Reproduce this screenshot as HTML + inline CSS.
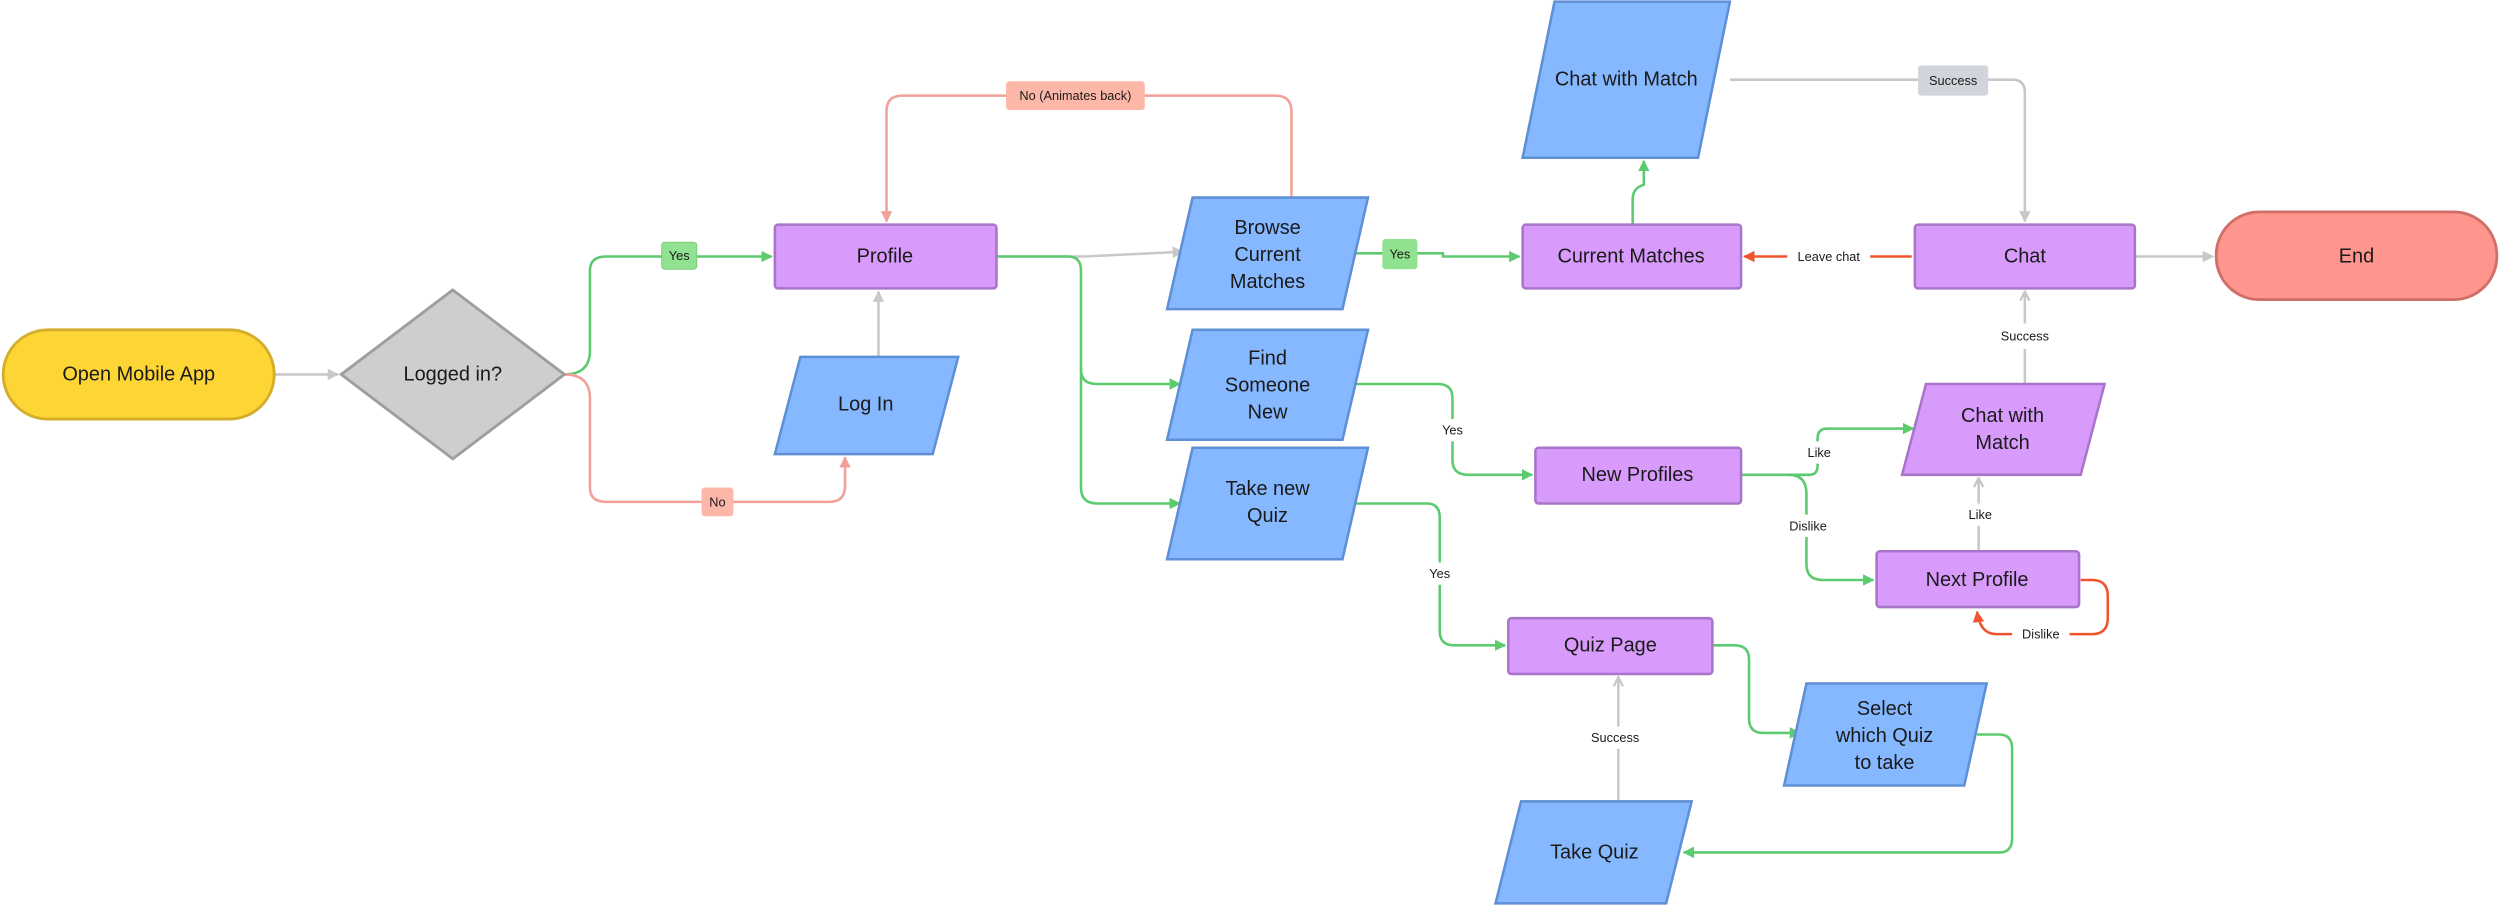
<!DOCTYPE html>
<html><head><meta charset="utf-8"><style>
html,body{margin:0;padding:0;background:#fff;}
svg{display:block;}
text{font-family:"Liberation Sans",sans-serif;fill:#1a1a1a;}
.n{font-size:12.5px;text-anchor:middle;dominant-baseline:central;}
.l{font-size:8px;text-anchor:middle;dominant-baseline:central;}
.g{stroke:#5CCB6F;stroke-width:1.6;fill:none;}
.gr{stroke:#C8C8C8;stroke-width:1.6;fill:none;}
.p{stroke:#F1A198;stroke-width:1.6;fill:none;}
.r{stroke:#F1532F;stroke-width:1.6;fill:none;}
.pur{fill:#D89BFB;stroke:#A875C8;stroke-width:1.6;}
.blu{fill:#85B8FF;stroke:#5F8FD4;stroke-width:1.6;}
</style></head><body>
<svg width="2500" height="905" viewBox="0 0 1568 568" preserveAspectRatio="none" xmlns="http://www.w3.org/2000/svg">
<defs>
<marker id="ag" viewBox="0 0 10 10" refX="9" refY="5" markerWidth="4.5" markerHeight="4.5" orient="auto"><path d="M0,0L10,5L0,10z" fill="#5CCB6F"/></marker>
<marker id="agr" viewBox="0 0 10 10" refX="9" refY="5" markerWidth="4.5" markerHeight="4.5" orient="auto"><path d="M0,0L10,5L0,10z" fill="#C8C8C8"/></marker>
<marker id="ap" viewBox="0 0 10 10" refX="9" refY="5" markerWidth="4.5" markerHeight="4.5" orient="auto"><path d="M0,0L10,5L0,10z" fill="#F1A198"/></marker>
<marker id="ar" viewBox="0 0 10 10" refX="9" refY="5" markerWidth="4.5" markerHeight="4.5" orient="auto"><path d="M0,0L10,5L0,10z" fill="#F1532F"/></marker>
<marker id="ao" viewBox="0 0 10 10" refX="9" refY="5" markerWidth="4.5" markerHeight="4.5" orient="auto"><path d="M1,1L9,5L1,9" fill="none" stroke="#C8C8C8" stroke-width="2"/></marker>
</defs>

<path class="gr" d="M172,235H212" marker-end="url(#agr)"/>
<path class="g" d="M354,235Q370,235 370,220V170Q370,161 380,161H484" marker-end="url(#ag)"/>
<path class="p" d="M354,235Q370,235 370,250V306Q370,315 380,315H520Q530,315 530,305V287" marker-end="url(#ap)"/>
<path class="gr" d="M551,224V183" marker-end="url(#agr)"/>
<path class="p" d="M810,124V70Q810,60 800,60H566Q556,60 556,70V139" marker-end="url(#ap)"/>
<path class="gr" d="M625,161H680L742,158" marker-end="url(#agr)"/>
<path class="g" d="M625,161H670Q678,161 678,170V232Q678,241 688,241H740" marker-end="url(#ag)"/>
<path class="g" d="M678,230V306Q678,316 688,316H740" marker-end="url(#ag)"/>
<path class="g" d="M842,159H905V161H953" marker-end="url(#ag)"/>
<path class="g" d="M1024,141V125Q1024,118 1031,116V101" marker-end="url(#ag)"/>
<path class="gr" d="M1085,50H1262Q1270,50 1270,58V139" marker-end="url(#agr)"/>
<path class="r" d="M1199,161H1094" marker-end="url(#ar)"/>
<path class="gr" d="M1339,161H1388" marker-end="url(#agr)"/>
<path class="gr" d="M1270,241V183" marker-end="url(#ao)"/>
<path class="g" d="M850,241H902Q911,241 911,250V289Q911,298 921,298H961" marker-end="url(#ag)"/>
<path class="g" d="M1092,298H1135Q1140,298 1140,292V275Q1140,269 1146,269H1200" marker-end="url(#ag)"/>
<path class="g" d="M1122,298Q1133,298 1133,310V354Q1133,364 1143,364H1175" marker-end="url(#ag)"/>
<path class="gr" d="M1241,346V300" marker-end="url(#ao)"/>
<path class="r" d="M1305,364H1312Q1322,364 1322,374V388Q1322,398 1312,398H1252Q1242,398 1240,384" marker-end="url(#ar)"/>
<path class="g" d="M850,316H895Q903,316 903,325V396Q903,405 912,405H944" marker-end="url(#ag)"/>
<path class="g" d="M1074,405H1088Q1097,405 1097,414V451Q1097,460 1106,460H1129" marker-end="url(#ag)"/>
<path class="g" d="M1240,461H1254Q1262,461 1262,470V526Q1262,535 1254,535H1056" marker-end="url(#ag)"/>
<path class="gr" d="M1015,503V425" marker-end="url(#ao)"/>

<rect x="415" y="152" width="22" height="17" rx="2" fill="#90E190" stroke="#7DCB7D" stroke-width=".6"/><text class="l" x="426" y="160.5">Yes</text>
<rect x="440" y="306" width="20" height="18" rx="2" fill="#FDB7A9"/><text class="l" x="450" y="315">No</text>
<rect x="631" y="51" width="87" height="18" rx="2" fill="#FDB7A9"/><text class="l" x="674.5" y="60">No (Animates back)</text>
<rect x="867" y="150" width="22" height="19" rx="2" fill="#90E190"/><text class="l" x="878" y="159.5">Yes</text>
<rect x="1203" y="41" width="44" height="19" rx="2" fill="#D1D5DB"/><text class="l" x="1225" y="50.5">Success</text>
<rect x="1121" y="154" width="52" height="14" fill="#fff"/><text class="l" x="1147" y="161">Leave chat</text>
<rect x="1250" y="203" width="40" height="16" fill="#fff"/><text class="l" x="1270" y="211">Success</text>
<rect x="898" y="263" width="26" height="14" fill="#fff"/><text class="l" x="911" y="270">Yes</text>
<rect x="1128" y="277" width="26" height="14" fill="#fff"/><text class="l" x="1141" y="284">Like</text>
<rect x="1116" y="323" width="36" height="14" fill="#fff"/><text class="l" x="1134" y="330">Dislike</text>
<rect x="1229" y="316" width="26" height="14" fill="#fff"/><text class="l" x="1242" y="323">Like</text>
<rect x="1262" y="391" width="36" height="14" fill="#fff"/><text class="l" x="1280" y="398">Dislike</text>
<rect x="890" y="353" width="26" height="14" fill="#fff"/><text class="l" x="903" y="360">Yes</text>
<rect x="993" y="456" width="40" height="14" fill="#fff"/><text class="l" x="1013" y="463">Success</text>

<rect x="2" y="207" width="170" height="56" rx="28" fill="#FDD535" stroke="#D4AE2A" stroke-width="1.8"/>
<text class="n" x="87" y="235">Open Mobile App</text>
<path d="M284,182L354,235L284,288L214,235Z" fill="#CFCDCE" stroke="#9E9E9E" stroke-width="1.8"/>
<text class="n" x="284" y="235">Logged in?</text>
<rect class="pur" x="486" y="141" width="139" height="40" rx="2"/><text class="n" x="555" y="161">Profile</text>
<path class="blu" d="M502,224H601L585,285H486Z"/><text class="n" x="543" y="254">Log In</text>
<path class="blu" d="M748,124H858L842,194H732Z"/><text class="n" x="795" y="143">Browse</text><text class="n" x="795" y="160">Current</text><text class="n" x="795" y="177">Matches</text>
<path class="blu" d="M748,207H858L842,276H732Z"/><text class="n" x="795" y="225">Find</text><text class="n" x="795" y="242">Someone</text><text class="n" x="795" y="259">New</text>
<path class="blu" d="M748,281H858L842,351H732Z"/><text class="n" x="795" y="307">Take new</text><text class="n" x="795" y="324">Quiz</text>
<path class="blu" d="M975,1H1085L1065,99H955Z"/><text class="n" x="1020" y="50">Chat with Match</text>
<rect class="pur" x="955" y="141" width="137" height="40" rx="2"/><text class="n" x="1023" y="161">Current Matches</text>
<rect class="pur" x="1201" y="141" width="138" height="40" rx="2"/><text class="n" x="1270" y="161">Chat</text>
<rect x="1390" y="133" width="176" height="55" rx="27" fill="#FF968D" stroke="#D06F68" stroke-width="1.8"/><text class="n" x="1478" y="161">End</text>
<rect class="pur" x="963" y="281" width="129" height="35" rx="2"/><text class="n" x="1027" y="298">New Profiles</text>
<path class="pur" d="M1208,241H1320L1305,298H1193Z"/><text class="n" x="1256" y="261">Chat with</text><text class="n" x="1256" y="278">Match</text>
<rect class="pur" x="1177" y="346" width="127" height="35" rx="2"/><text class="n" x="1240" y="364">Next Profile</text>
<rect class="pur" x="946" y="388" width="128" height="35" rx="2"/><text class="n" x="1010" y="405">Quiz Page</text>
<path class="blu" d="M1133,429H1246L1232,493H1119Z"/><text class="n" x="1182" y="445">Select</text><text class="n" x="1182" y="462">which Quiz</text><text class="n" x="1182" y="479">to take</text>
<path class="blu" d="M954,503H1061L1045,567H938Z"/><text class="n" x="1000" y="535">Take Quiz</text>
</svg>
</body></html>
